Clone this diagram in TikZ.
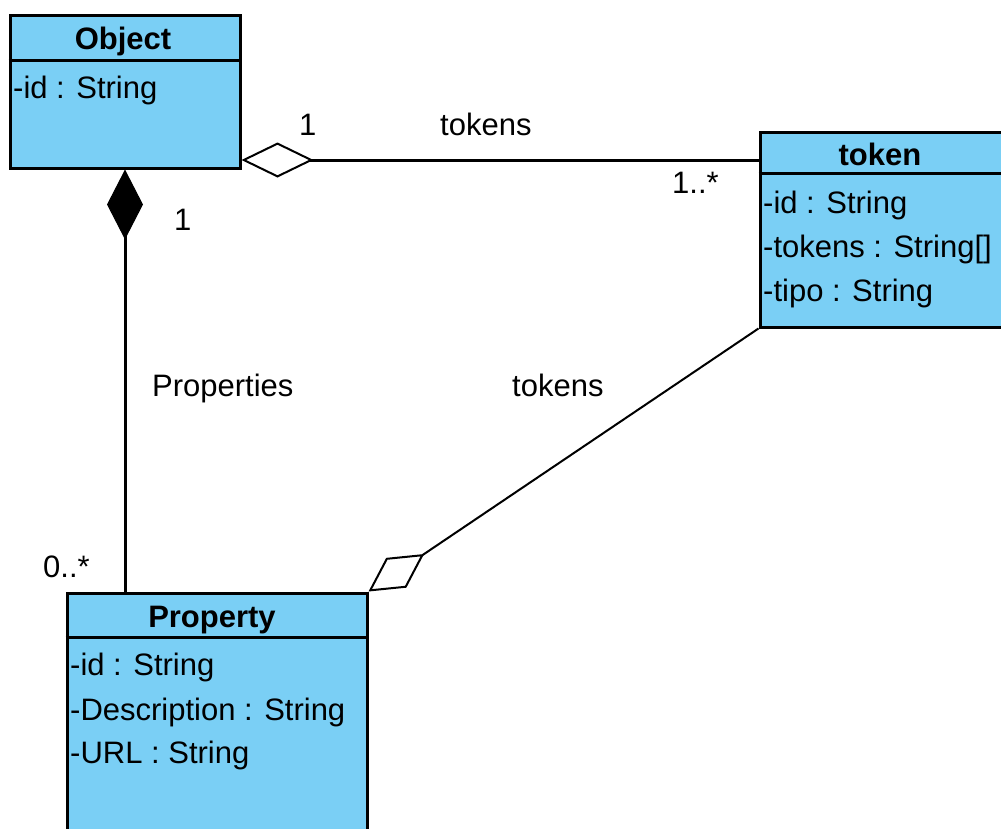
\documentclass[tikz,border=0pt]{standalone}
\usepackage{fontspec}
\setmainfont{Liberation Sans}
\usetikzlibrary{arrows.meta}
\definecolor{classfill}{HTML}{7ACFF5}
\begin{document}
\begin{tikzpicture}[x=1pt,y=-1pt,
  classbox/.style={draw=black, fill=classfill, line width=3pt, rectangle, inner sep=0pt},
  txt/.style={inner sep=0pt, anchor=base west, font=\fontsize{31}{37}\selectfont},
  head/.style={inner sep=0pt, anchor=base, font=\fontsize{31}{37}\selectfont\bfseries},
  sepline/.style={line width=3pt},
  assoc/.style={line width=3pt},
  thinassoc/.style={line width=2pt},
  aggtip/.style={-{Diamond[fill=white, length=72pt, width=35pt, line width=2pt]}},
  comptip/.style={-{Diamond[fill=black, length=70pt, width=36pt, line width=1pt]}},
  aggtipthin/.style={-{Diamond[fill=white, length=67pt, width=36pt, line width=2pt]}}
]
\useasboundingbox (0,0) rectangle (1001,828);
\clip (0,0) rectangle (1001,828);

% class boxes
\node[classbox, minimum width=230pt, minimum height=153pt] (obj) at (125,91.5) {};
\node[classbox, minimum width=250pt, minimum height=195pt] (tok) at (885,229.5) {};
\node[classbox, minimum width=300pt, minimum height=260pt] (prop) at (217,723) {};

% compartment separators
\draw[sepline] (obj.west |- 0,60) -- (obj.east |- 0,60);
\draw[sepline] (tok.west |- 0,173) -- (tok.east |- 0,173);
\draw[sepline] (prop.west |- 0,637) -- (prop.east |- 0,637);

% class names
\node[head] (objname) at (123,49) {Object};
\node[head] (tokname) at (880,165) {token};
\node[head] (propname) at (212,627) {Property};

% attributes
\node[txt] (objid) at (13,98) {-id : String};
\node[txt] (tokid) at (763,213) {-id : String};
\node[txt] (toktokens) at (763,257) {-tokens : String[]};
\node[txt] (toktipo) at (763,301) {-tipo : String};
\node[txt] (propid) at (70,675) {-id : String};
\node[txt] (propdesc) at (70,720) {-Description : String};
\node[txt] (propurl) at (70,763) {-URL : String};

% associations
\draw[assoc, aggtip] (tok.west |- 0,160) -- (obj.east |- 0,160);
\draw[assoc, comptip] (obj.south |- prop.north) -- (obj.south);
\draw[thinassoc, aggtipthin] (tok.south west) -- (prop.north east);

% association labels
\node[txt] (m1) at (299,135) {1};
\node[txt] (n1) at (440,135) {tokens};
\node[txt] (m2) at (672,193) {1..*};
\node[txt] (m3) at (174,230) {1};
\node[txt] (n2) at (152,396) {Properties};
\node[txt] (n3) at (512,396) {tokens};
\node[txt] (m4) at (43,577) {0..*};
\end{tikzpicture}
\end{document}
